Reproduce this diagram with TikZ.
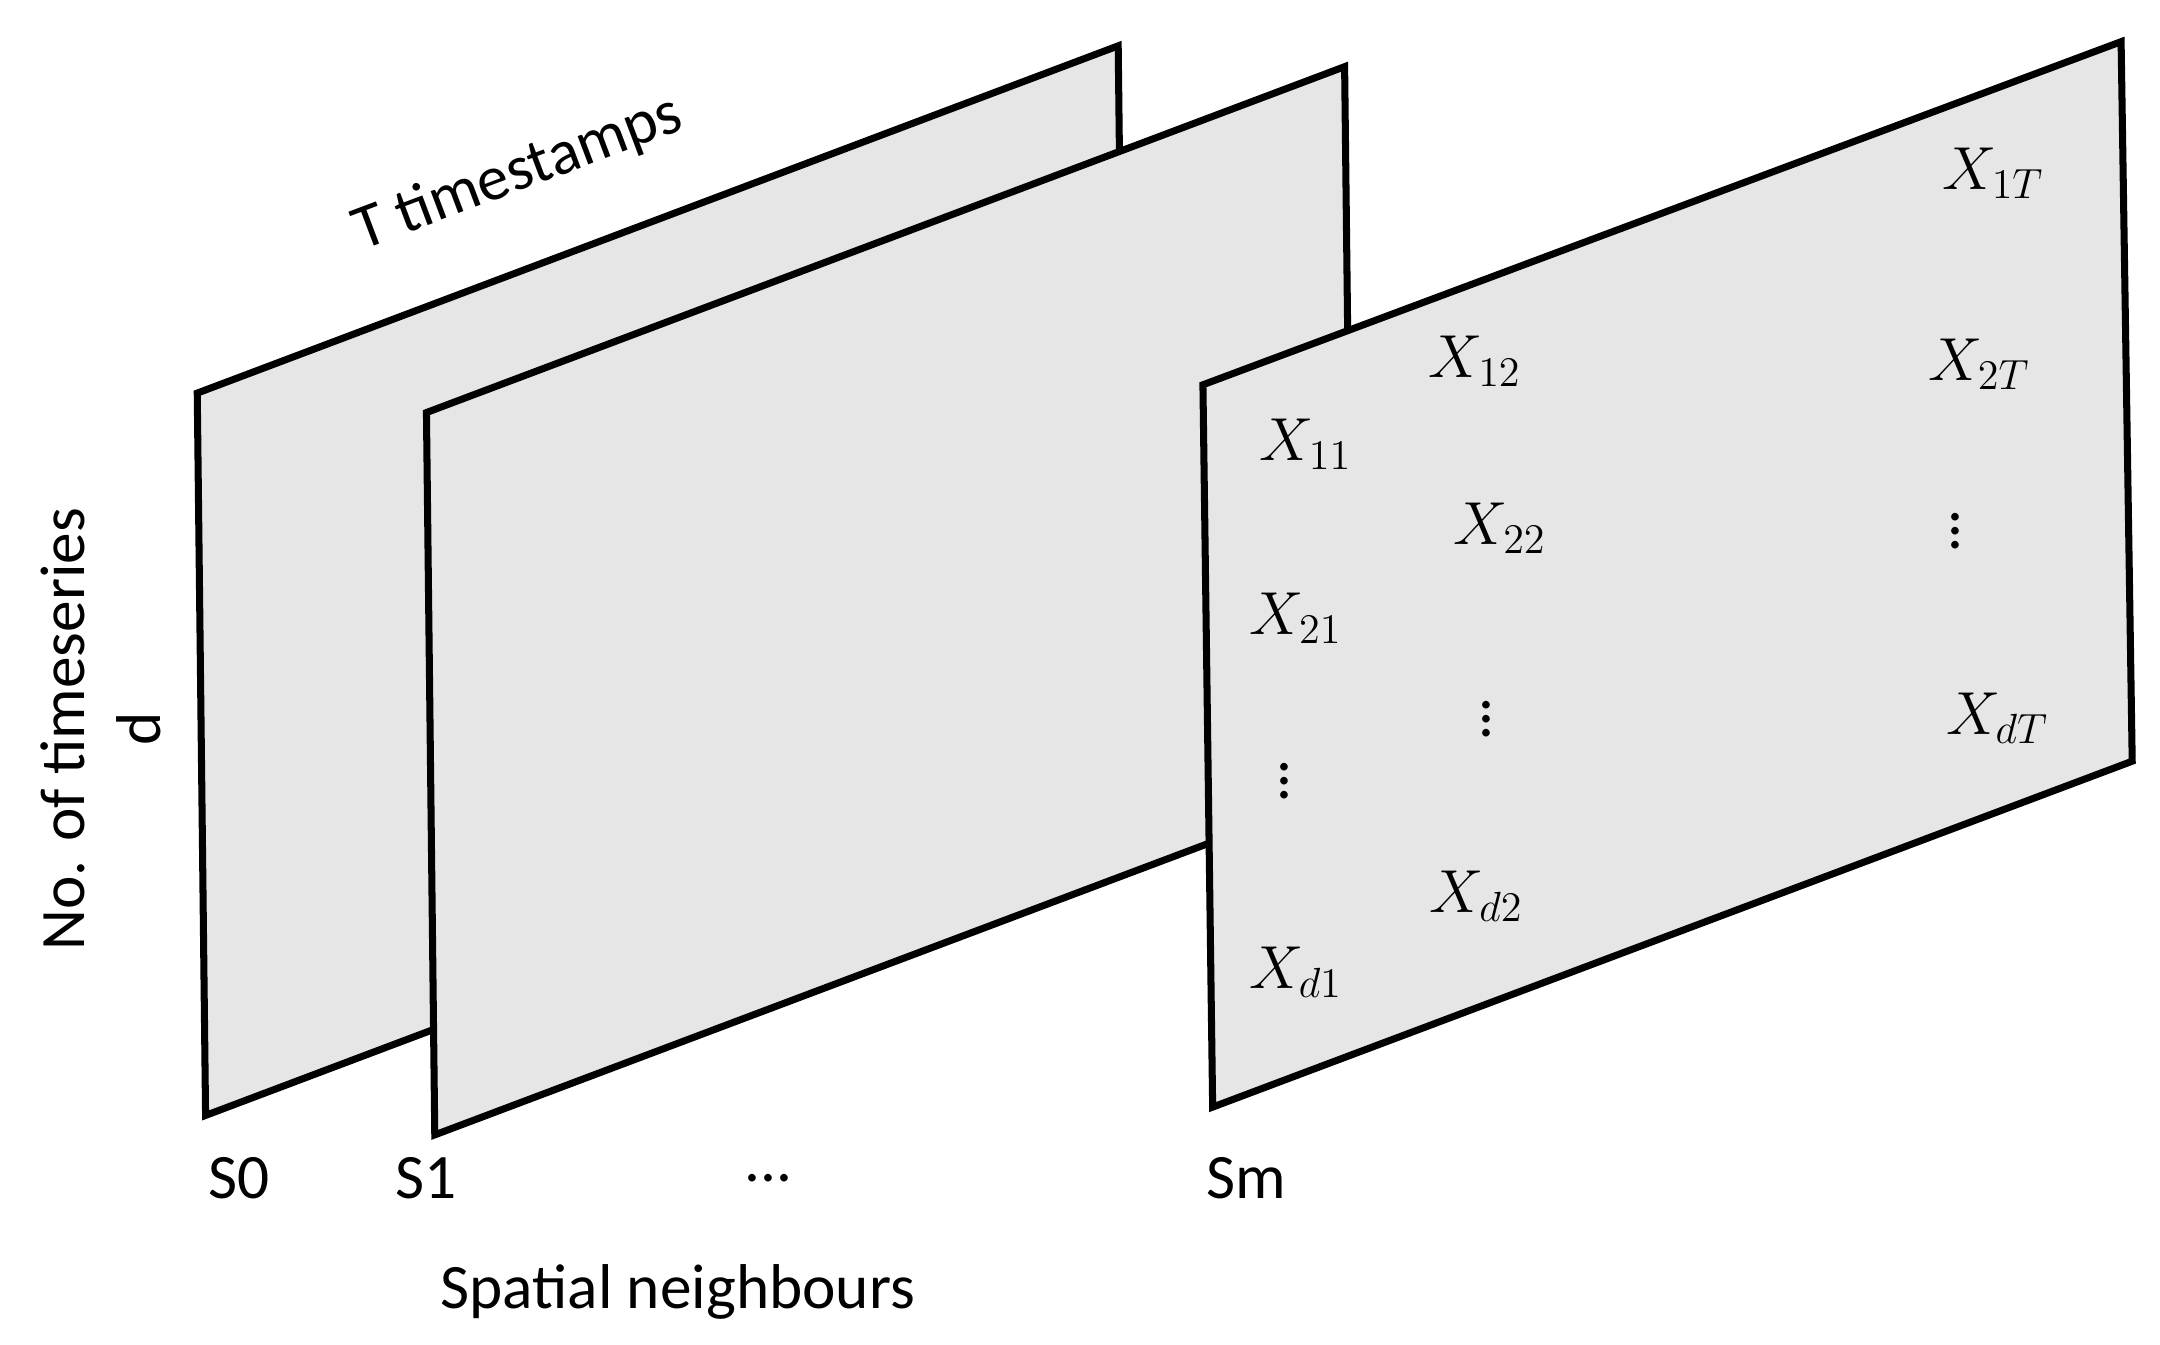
\documentclass[tikz,border=0pt]{standalone}
\usepackage{fontspec}
\setmainfont{Carlito}
\usepackage{tikz}
\usetikzlibrary{positioning}
\definecolor{planegray}{HTML}{E6E6E6}
\begin{document}
\begin{tikzpicture}[x=0.01389cm,y=-0.01389cm,
        plane/.style={draw=black,fill=planegray,line width=2pt,line join=miter},
        lbl/.style={font=\fontsize{18}{20}\selectfont,inner sep=1pt},
        entry/.style={font=\fontsize{18}{20}\selectfont,inner sep=1pt}]
      \useasboundingbox (0,0) rectangle (1555,968);
      % planes, back to front
      \draw[plane] (142,283) -- (805,33) -- (811,553) -- (148,803) -- cycle;
      \draw[plane] (307,297) -- (968,48) -- (974,568) -- (313,817) -- cycle;
      \draw[plane] (866,277) -- (1527,30) -- (1535,548) -- (873,797) -- cycle;
      % axis labels
      \node[lbl,rotate=20.6] (time) at (373,125) {T timestamps};
      \node[lbl,rotate=90] (series) at (45,525) {No. of timeseries};
      \node[lbl,rotate=90] (dim) at (100,525) {d};
      \node[lbl] (s0) at (172,848) {S0};
      \node[lbl] (s1) at (307,848) {S1};
      \node[lbl] (sdots) at (553,848) {...};
      \node[lbl] (sm) at (897,848) {Sm};
      \node[lbl] (spatial) at (488,930) {Spatial neighbours};
      % entries of the last plane
      \node[entry] (x11) at (940,320) {$X_{11}$};
      \node[entry] (x12) at (1062,260) {$X_{12}$};
      \node[entry] (x1t) at (1435,125) {$X_{1T}$};
      \node[entry] (x21) at (933,445) {$X_{21}$};
      \node[entry] (x22) at (1080,380) {$X_{22}$};
      \node[entry] (x2t) at (1425,262) {$X_{2T}$};
      \node[entry] (v1) at (925,555) {$\vdots$};
      \node[entry] (v2) at (1070,510) {$\vdots$};
      \node[entry] (v3) at (1408,375) {$\vdots$};
      \node[entry] (xd1) at (933,700) {$X_{d1}$};
      \node[entry] (xd2) at (1063,645) {$X_{d2}$};
      \node[entry] (xdt) at (1438,517) {$X_{dT}$};
    \end{tikzpicture}
\end{document}
